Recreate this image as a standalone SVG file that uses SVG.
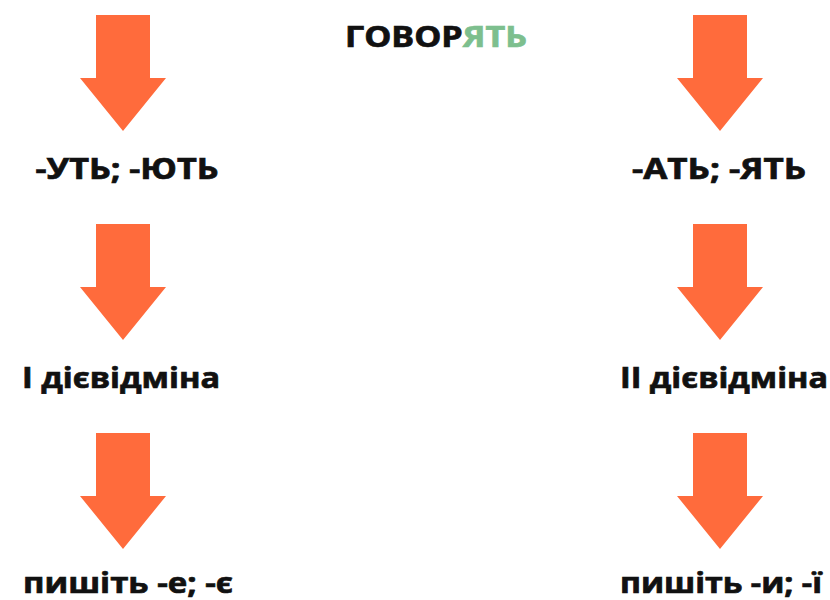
<svg xmlns="http://www.w3.org/2000/svg" width="830" height="600" viewBox="0 0 830 600">
<defs>
<style>
.t{font-family:"Open Sans","Liberation Sans",sans-serif;font-weight:700;font-size:28px;fill:#111;stroke:#111;stroke-width:0.7px;text-anchor:middle}
.g{fill:#7dbf8e;stroke:#7dbf8e}
.a{fill:#ff6b3c}
</style>
<path id="arr" d="M-27 0H27V63H43L0 116L-43 63H-27Z"/>
</defs>
<rect width="830" height="600" fill="#fff"/>
<g id="connectors">
<use href="#arr" class="a" x="123" y="15"/>
<use href="#arr" class="a" x="123" y="224"/>
<use href="#arr" class="a" x="123" y="433"/>
<use href="#arr" class="a" x="720" y="15"/>
<use href="#arr" class="a" x="720" y="224"/>
<use href="#arr" class="a" x="720" y="433"/>
</g>
<g id="title"><text class="t" x="436" y="47" textLength="182" lengthAdjust="spacingAndGlyphs">ГОВОР<tspan class="g">ЯТЬ</tspan></text></g>
<g id="n1"><text class="t" x="127" y="179" textLength="183" lengthAdjust="spacingAndGlyphs">-УТЬ; -ЮТЬ</text></g>
<g id="n2"><text class="t" x="719" y="179" textLength="174" lengthAdjust="spacingAndGlyphs">-АТЬ; -ЯТЬ</text></g>
<g id="n3"><text class="t" x="121" y="388" textLength="198" lengthAdjust="spacingAndGlyphs">І дієвідміна</text></g>
<g id="n4"><text class="t" x="724" y="388" textLength="208" lengthAdjust="spacingAndGlyphs">ІІ дієвідміна</text></g>
<g id="n5"><text class="t" x="128" y="593" textLength="210" lengthAdjust="spacingAndGlyphs">пишіть -е; -є</text></g>
<g id="n6"><text class="t" x="721" y="593" textLength="202" lengthAdjust="spacingAndGlyphs">пишіть -и; -ї</text></g>
</svg>
